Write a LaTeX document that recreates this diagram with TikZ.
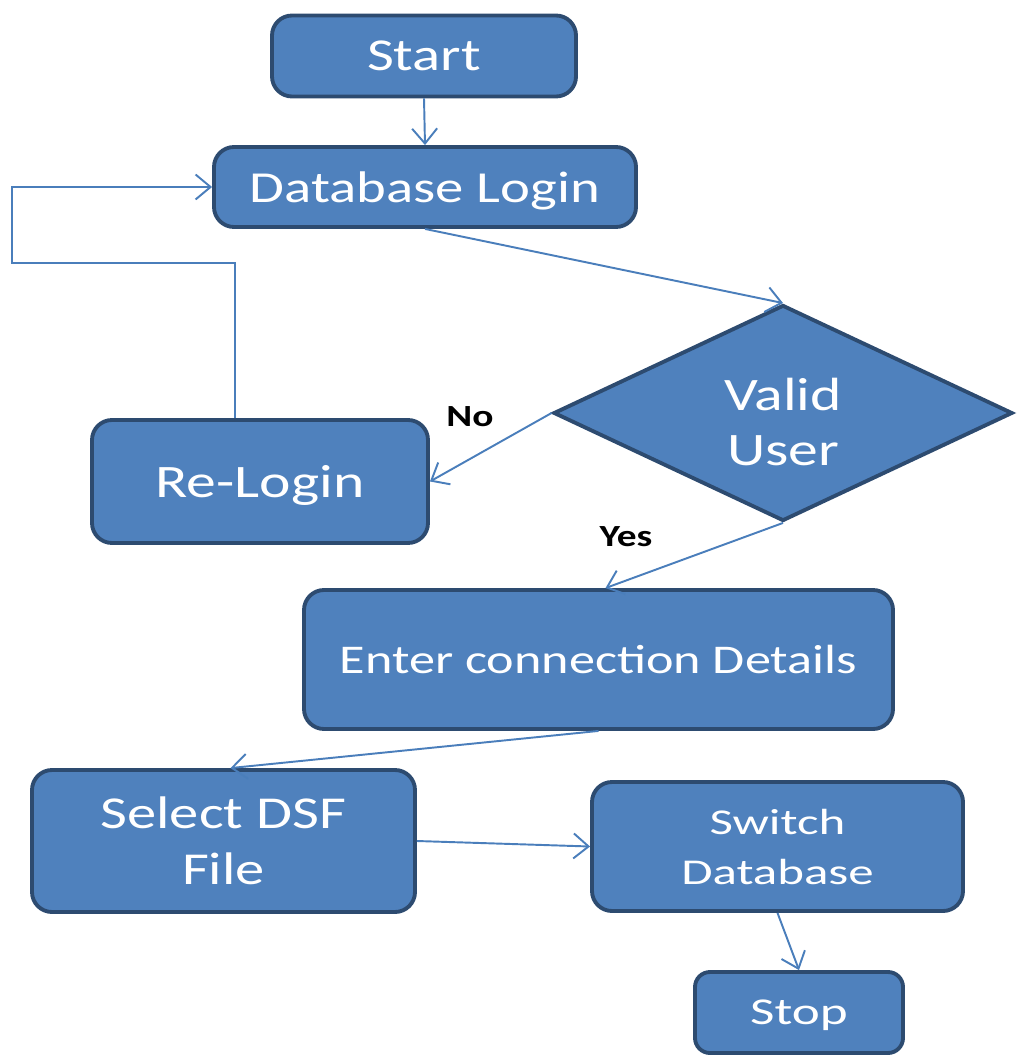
\documentclass[tikz,border=0pt]{standalone}
\usepackage{fontspec}
\setmainfont{Carlito}[FakeStretch=1.28]
\newfontfamily\widerfont{Carlito}[FakeStretch=1.4]
\usetikzlibrary{shapes.geometric,arrows.meta}
\definecolor{boxfill}{HTML}{4F81BD}
\definecolor{boxline}{HTML}{2D4B70}
\definecolor{flowline}{HTML}{4A7EBB}
\begin{document}
\begin{tikzpicture}[
  box/.style={draw=boxline, fill=boxfill, line width=2.2pt, rounded corners=0.4cm, text=white, align=center, inner sep=0pt, text depth=0pt},
  flow/.style={draw=flowline, line width=1.1pt, -{Straight Barb[length=0.3cm,width=0.5cm]}},
  tag/.style={font=\fontsize{17.5}{20}\selectfont\bfseries}
]
\useasboundingbox (0,0) rectangle (20.34,-21.14);
\node[box, minimum width=6.08cm, minimum height=1.62cm, font=\fontsize{26}{31}\selectfont] (start) at (8.48,-1.12) {Start};
\node[box, minimum width=8.44cm, minimum height=1.60cm, font=\fontsize{25.2}{30}\selectfont] (login) at (8.50,-3.74) {Database Login};
\node[box, shape=diamond, aspect=2.1, rounded corners=0pt, minimum width=9.18cm, minimum height=4.32cm, font=\fontsize{26.5}{31}\selectfont] (valid) at (15.66,-8.26) {\rule{0pt}{1.0cm}Valid\\User};
\node[box, minimum width=6.72cm, minimum height=2.46cm, font=\fontsize{26.5}{31}\selectfont] (relogin) at (5.20,-9.63) {Re-Login};
\node[box, minimum width=11.78cm, minimum height=2.78cm, font=\fontsize{23.2}{28}\selectfont] (details) at (11.97,-13.19) {Enter connection Details};
\node[box, minimum width=7.66cm, minimum height=2.84cm, font=\fontsize{26}{32}\selectfont] (select) at (4.47,-16.82) {Select DSF\\File};
\node[box, minimum width=7.42cm, minimum height=2.58cm, font=\widerfont\fontsize{20.7}{28.5}\selectfont] (switch) at (15.55,-16.93) {Switch\\Database};
\node[box, rounded corners=0.3cm, minimum width=4.16cm, minimum height=1.62cm, font=\widerfont\fontsize{21.6}{26}\selectfont] (stop) at (15.98,-20.25) {Stop};
\node[tag] (no) at (9.40,-8.34) {No};
\node[tag] (yes) at (12.52,-10.74) {Yes};
\coordinate (loop) at (0.24,-5.26);
\draw[flow] (start.south) -- (login.north);
\draw[flow] ([xshift=-0.5cm]relogin.north) |- (loop) |- (login.west);
\draw[flow] (login.south) -- (valid.north);
\draw[flow] (valid.west) -- (relogin.east);
\draw[flow] (valid.south) -- ([xshift=0.14cm]details.north);
\draw[flow] (details.south) -- ([xshift=0.14cm]select.north);
\draw[flow] (select.east) -- (switch.west);
\draw[flow] (switch.south) -- (stop.north);
\end{tikzpicture}
\end{document}
